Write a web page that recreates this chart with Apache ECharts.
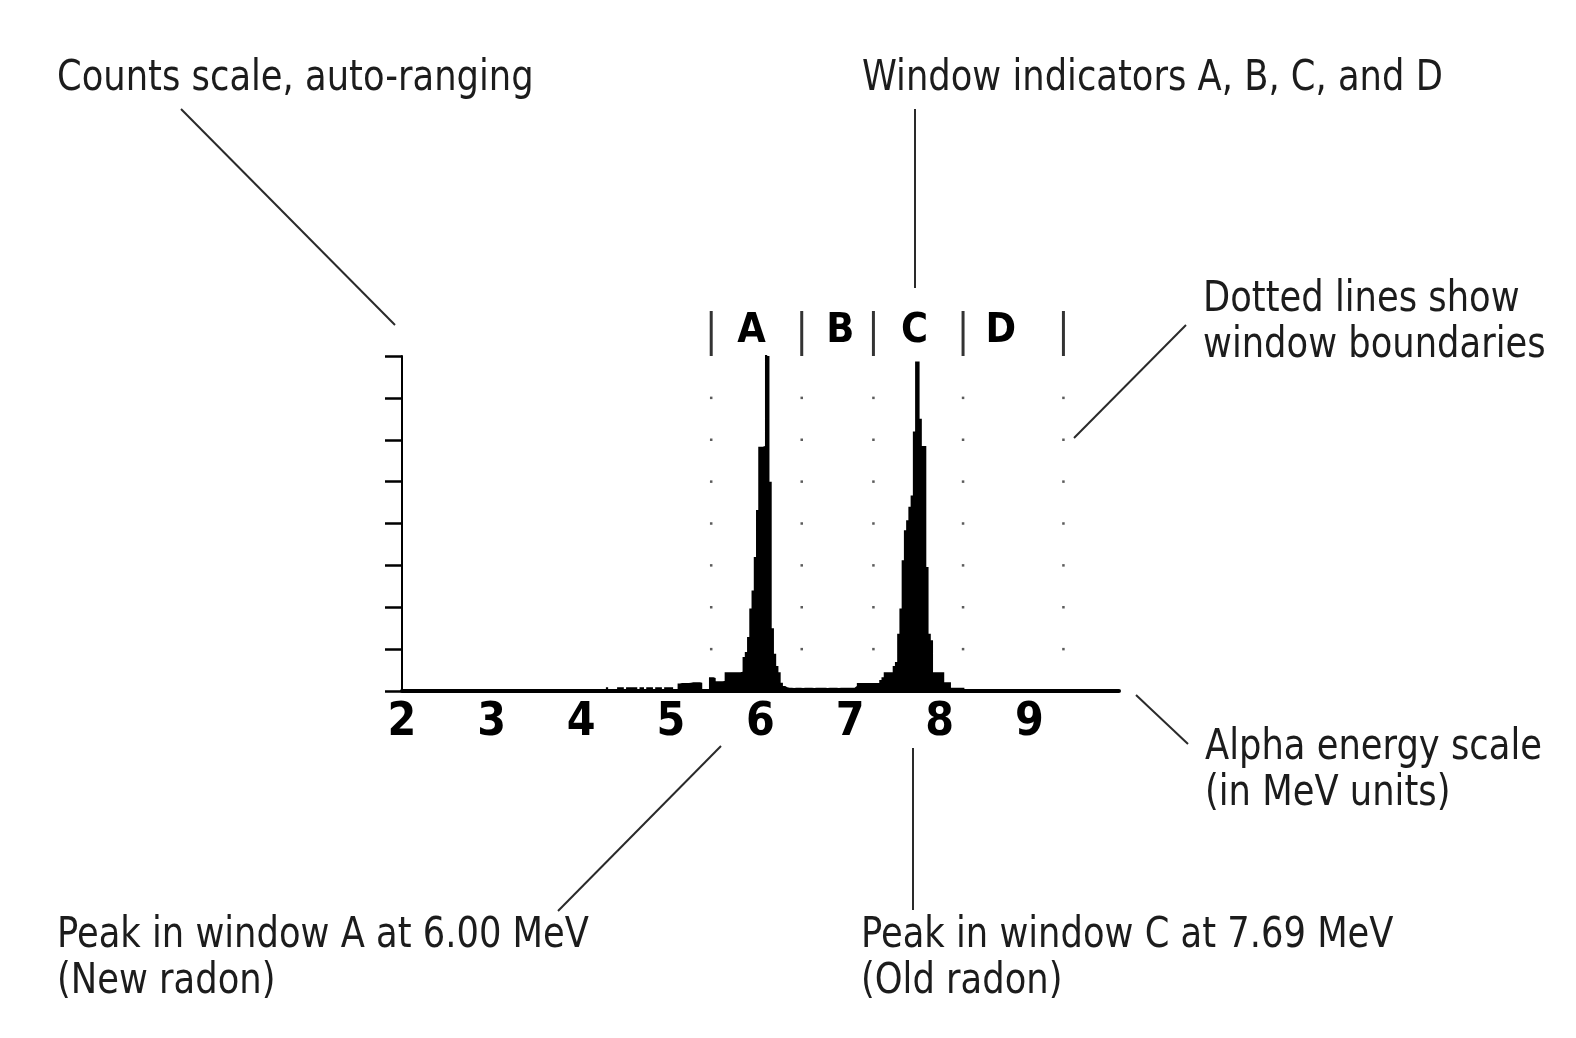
<!DOCTYPE html>
<html>
<head>
<meta charset="utf-8">
<title>Alpha spectrum</title>
<script src="https://cdn.jsdelivr.net/npm/echarts@6/dist/echarts.min.js"></script>
<style>
  html, body {margin: 0; padding: 0; background: #fff;}
  #chart {width: 1576px; height: 1038px;}
</style>
</head>
<body>
<div id="chart"></div>
<script>
// x axis: alpha energy in MeV
const energyMin = 2
const energyMax = 10
const energyLabels = [2, 3, 4, 5, 6, 7, 8, 9]

// histogram channels: left edge of first bin, bin width (MeV), counts per bin
const binStart = 4.275
const binWidth = 0.025
const counts = [
  // 4.275 - 5.050
  9, 0, 0, 0, 0, 9, 9, 9, 0, 9, 9, 9, 9, 9, 0, 9, 9, 0, 9, 9, 9, 0, 9, 9, 9, 0, 9, 9, 9, 9, 0, 0,
  // 5.075 - 5.325
  18, 19, 19, 19, 19, 20, 21, 21, 21, 21, 20,
  // 5.350 - 5.575
  4, 3, 4, 33, 33, 31, 23, 23, 23, 24,
  // 5.600 - 5.775
  45, 45, 45, 45, 45, 45, 45, 46,
  // 5.800 - 6.275 (peak A)
  81, 93, 129, 197, 240, 320, 432, 583, 583, 585, 805, 800, 500, 150, 89, 60, 45, 20, 12, 9,
  // 6.300 - 7.025
  8, 8, 7, 8, 8, 8, 7, 8, 8, 8, 8, 7, 8, 8, 8, 8, 8, 7, 8, 8, 8, 8, 7, 8, 8, 8, 8, 8, 8, 8,
  // 7.050 - 7.300
  12, 19, 19, 19, 19, 19, 19, 19, 19, 19, 19,
  // 7.325 - 7.900 (peak C)
  26, 33, 45, 45, 45, 45, 60, 69, 137, 197, 312, 384, 408, 440, 467, 620, 787, 787, 650, 585, 585, 296, 137, 121,
  // 7.925 - 8.250
  45, 45, 45, 45, 45, 21, 21, 21, 8, 8, 8, 8, 8, 8
]

// counts scale (auto-ranging, unlabeled)
const countsMax = 800
const countsStep = 100
// levels where the dotted window lines show a dot
const dotLevels = [100, 200, 300, 400, 500, 600, 700]

// window boundaries and window indicator letters
const windowEdges = [5.45, 6.46, 7.26, 8.26, 9.38]
const windowNames = ['A', 'B', 'C', 'D']
const windowLabelAt = [5.90, 6.89, 7.72, 8.68]

const narrowFont = '"Liberation Sans Narrow", "DejaVu Sans Condensed", "Roboto Condensed", sans-serif'
const textFont = '42px ' + narrowFont

const chart = echarts.init(document.getElementById('chart'))

// build step histogram points (left edge of each bin, plus closing edge)
const histData = counts.map((c, i) => [+(binStart + i * binWidth).toFixed(3), c])
histData.push([+(binStart + counts.length * binWidth).toFixed(3), 0])

const dotData = []
windowEdges.forEach(e => dotLevels.forEach(l => dotData.push([e, l])))

// annotation text, squeezed a bit to match the narrow lettering
const note = (text, x, baseline) => ({
  type: 'text',
  x: x,
  y: baseline - 13,
  scaleX: 0.935,
  style: {text, font: textFont, fill: '#1c1c1c', verticalAlign: 'middle'}
})
const leader = (x1, y1, x2, y2) => ({
  type: 'line',
  shape: {x1, y1, x2, y2},
  style: {stroke: '#2a2a2a', lineWidth: 2}
})

const option = {
  animation: false,
  backgroundColor: '#fff',
  grid: [
    {left: 402, right: 457, top: 356, bottom: 347},
    {left: 402, right: 457, top: 311, height: 45}
  ],
  xAxis: [
    {
      type: 'value', min: energyMin, max: energyMax, interval: 1,
      axisLine: {lineStyle: {color: '#000', width: 4}},
      axisTick: {show: false},
      splitLine: {show: false},
      axisLabel: {
        margin: 9, color: '#000', fontSize: 46, fontWeight: 'bold', fontFamily: narrowFont,
        formatter: v => energyLabels.includes(v) ? String(v) : ''
      }
    },
    {type: 'value', gridIndex: 1, min: energyMin, max: energyMax, show: false}
  ],
  yAxis: [
    {
      type: 'value', min: 0, max: countsMax, interval: countsStep,
      axisLine: {show: true, lineStyle: {color: '#000', width: 2}},
      axisTick: {show: true, length: 17, lineStyle: {color: '#000', width: 2.5}},
      axisLabel: {show: false},
      splitLine: {show: false}
    },
    {type: 'value', gridIndex: 1, min: 0, max: 1, show: false}
  ],
  series: [
    {
      name: 'spectrum', type: 'line', step: 'end', data: histData,
      symbol: 'none', silent: true, z: 3,
      lineStyle: {opacity: 0},
      areaStyle: {color: '#000', opacity: 1}
    },
    {
      name: 'window dots', type: 'scatter', data: dotData,
      symbol: 'rect', symbolSize: 2.5, silent: true,
      itemStyle: {color: '#333'}
    },
    {
      name: 'window bars', type: 'scatter', xAxisIndex: 1, yAxisIndex: 1,
      data: windowEdges.map(e => [e, 0.5]),
      symbol: 'rect', symbolSize: [3, 45], silent: true,
      itemStyle: {color: '#000'}
    },
    {
      name: 'window names', type: 'scatter', xAxisIndex: 1, yAxisIndex: 1,
      data: windowNames.map((n, i) => ({name: n, value: [windowLabelAt[i], 0.54]})),
      symbolSize: 1, silent: true,
      itemStyle: {color: '#fff', opacity: 0},
      label: {
        show: true, position: 'inside', formatter: '{b}', opacity: 1,
        color: '#000', textBorderWidth: 0, fontSize: 41, fontWeight: 'bold', fontFamily: narrowFont
      }
    }
  ],
  graphic: [
    note('Counts scale, auto-ranging', 57, 92),
    note('Window indicators A, B, C, and D', 862, 92),
    note('Dotted lines show', 1203, 313),
    note('window boundaries', 1203, 359),
    note('Alpha energy scale', 1205, 761),
    note('(in MeV units)', 1205, 807),
    note('Peak in window A at 6.00 MeV', 57, 949),
    note('(New radon)', 57, 995),
    note('Peak in window C at 7.69 MeV', 861, 949),
    note('(Old radon)', 861, 995),
    leader(181, 109, 395, 325),
    leader(915, 109, 915, 288),
    leader(1186, 325, 1074, 438),
    leader(1136, 695, 1188, 744),
    leader(721, 746, 558, 911),
    leader(913, 748, 913, 910)
  ]
}

chart.setOption(option)
window.addEventListener('resize', () => chart.resize())
</script>
</body>
</html>
